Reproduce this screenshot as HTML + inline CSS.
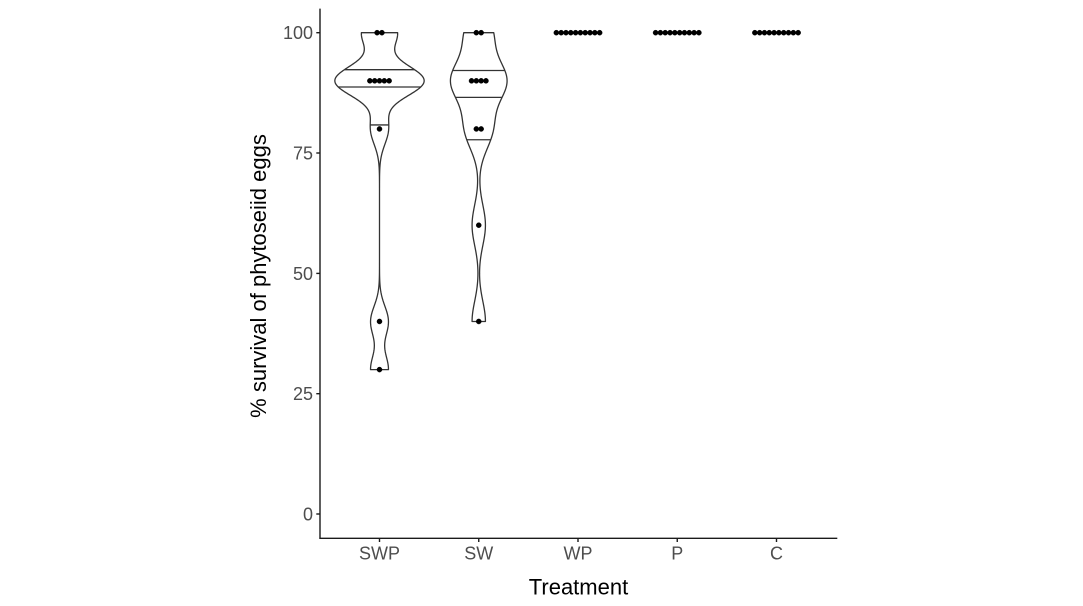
<!DOCTYPE html>
<html>
<head>
<meta charset="utf-8">
<style>
html,body{margin:0;padding:0;background:#fff;width:1083px;height:606px;overflow:hidden}
svg{display:block}
text{font-family:"Liberation Sans",Arial,sans-serif}
</style>
</head>
<body>
<svg id="s" width="1083" height="606" viewBox="0 0 1083 606" xmlns="http://www.w3.org/2000/svg">
<rect x="0" y="0" width="1083" height="606" fill="#fff"/>
<g id="violins" fill="#fff" stroke="#333" stroke-width="1.3" stroke-linejoin="round"></g>
<g id="qlines" stroke="#333" stroke-width="1.3"></g>
<g id="dots" fill="#000" stroke="#000" stroke-width="0.4"></g>

<!-- axes -->
<g stroke="#1a1a1a" stroke-width="1.4" fill="none">
  <line x1="320" y1="8.6" x2="320" y2="538.9"/>
  <line x1="319.4" y1="538.3" x2="837.3" y2="538.3"/>
  <!-- y ticks -->
  <line x1="316.3" y1="514.0" x2="320" y2="514.0"/>
  <line x1="316.3" y1="393.7" x2="320" y2="393.7"/>
  <line x1="316.3" y1="273.4" x2="320" y2="273.4"/>
  <line x1="316.3" y1="153.0" x2="320" y2="153.0"/>
  <line x1="316.3" y1="32.7" x2="320" y2="32.7"/>
  <!-- x ticks -->
  <line x1="379.5" y1="538.3" x2="379.5" y2="542"/>
  <line x1="478.75" y1="538.3" x2="478.75" y2="542"/>
  <line x1="578" y1="538.3" x2="578" y2="542"/>
  <line x1="677.25" y1="538.3" x2="677.25" y2="542"/>
  <line x1="776.5" y1="538.3" x2="776.5" y2="542"/>
</g>

<g fill="#4d4d4d" font-size="18" text-anchor="end">
  <text x="313" y="520.4">0</text>
  <text x="313" y="400.1">25</text>
  <text x="313" y="279.8">50</text>
  <text x="313" y="159.4">75</text>
  <text x="313" y="39.1">100</text>
</g>
<g fill="#4d4d4d" font-size="18" text-anchor="middle">
  <text x="379.5" y="559.3">SWP</text>
  <text x="478.75" y="559.3">SW</text>
  <text x="578" y="559.3">WP</text>
  <text x="677.25" y="559.3">P</text>
  <text x="776.5" y="559.3">C</text>
</g>
<text x="578.5" y="594.3" font-size="22" text-anchor="middle" fill="#000">Treatment</text>
<text transform="translate(266,276) rotate(-90)" font-size="22" text-anchor="middle" fill="#000">% survival of phytoseiid eggs</text>
</svg>
<script>
(function(){
var NS="http://www.w3.org/2000/svg";
function Y(v){return 514.0-4.813*v;}
function XC(i){return 379.5+99.25*i;}
var HW=0.45*99.25;
var ten100=[100,100,100,100,100,100,100,100,100,100];
var data=[
 [100,100,90,90,90,90,90,80,40,30],
 [100,100,90,90,90,90,80,80,60,40],
 ten100.slice(), ten100.slice(), ten100.slice()
];
function mean(a){var s=0;for(var i=0;i<a.length;i++)s+=a[i];return s/a.length;}
function q7(s,p){var h=(s.length-1)*p;var lo=Math.floor(h);var hi=Math.min(lo+1,s.length-1);return s[lo]+(h-lo)*(s[hi]-s[lo]);}
function bw(x){
  var n=x.length,m=mean(x),ss=0;
  for(var i=0;i<n;i++)ss+=(x[i]-m)*(x[i]-m);
  var sd=Math.sqrt(ss/(n-1));
  var s=x.slice().sort(function(a,b){return a-b;});
  var iqr=q7(s,0.75)-q7(s,0.25);
  var lo=Math.min(sd,iqr/1.34);
  if(!lo){lo=sd||Math.abs(x[0])||1;}
  return 0.9*lo*Math.pow(n,-0.2);
}
var N=512;
var dens=data.map(function(x){
  var b=bw(x);
  var lo=Math.min.apply(null,x),hi=Math.max.apply(null,x);
  var ys=[],ds=[];
  for(var k=0;k<N;k++){
    var y=lo+(hi-lo)*k/(N-1);
    var d=0;
    for(var j=0;j<x.length;j++){var z=(y-x[j])/b;d+=Math.exp(-0.5*z*z);}
    d/=x.length*b*Math.sqrt(2*Math.PI);
    ys.push(y);ds.push(d);
  }
  return {ys:ys,ds:ds,lo:lo,hi:hi};
});
var gmax=0;
dens.forEach(function(g){g.ds.forEach(function(d){if(d>gmax)gmax=d;});});
var gv=document.getElementById("violins"),gq=document.getElementById("qlines"),gd=document.getElementById("dots");
dens.forEach(function(g,i){
  var xc=XC(i);
  var vw=g.ds.map(function(d){return d/gmax;});
  var pts=[];
  for(var k=0;k<N;k++)pts.push((xc-vw[k]*HW).toFixed(2)+","+Y(g.ys[k]).toFixed(2));
  for(var k2=N-1;k2>=0;k2--)pts.push((xc+vw[k2]*HW).toFixed(2)+","+Y(g.ys[k2]).toFixed(2));
  var p=document.createElementNS(NS,"path");
  p.setAttribute("d","M"+pts.join("L")+"Z");
  gv.appendChild(p);
  if(g.hi>g.lo){
    var tot=0;g.ds.forEach(function(d){tot+=d;});
    var cum=[],c=0;
    for(var k3=0;k3<N;k3++){c+=g.ds[k3];cum.push(c/tot);}
    [0.25,0.5,0.75].forEach(function(q){
      var k=0;while(k<N-1&&cum[k]<q)k++;
      var y;
      if(k===0)y=g.ys[0];
      else{var f=(q-cum[k-1])/(cum[k]-cum[k-1]);y=g.ys[k-1]+f*(g.ys[k]-g.ys[k-1]);}
      var t=(y-g.lo)/(g.hi-g.lo)*(N-1);var a=Math.floor(t),bb=Math.min(a+1,N-1);
      var w=vw[a]+(t-a)*(vw[bb]-vw[a]);
      var l=document.createElementNS(NS,"line");
      l.setAttribute("x1",(xc-w*HW).toFixed(2));l.setAttribute("x2",(xc+w*HW).toFixed(2));
      l.setAttribute("y1",Y(y).toFixed(2));l.setAttribute("y2",Y(y).toFixed(2));
      gq.appendChild(l);
    });
  }
  var counts={};
  data[i].forEach(function(v){counts[v]=(counts[v]||0)+1;});
  var d=4.813;
  Object.keys(counts).forEach(function(v){
    var cnt=counts[v];
    for(var j=0;j<cnt;j++){
      var ci=document.createElementNS(NS,"circle");
      ci.setAttribute("cx",(xc+(j-(cnt-1)/2)*d).toFixed(2));
      ci.setAttribute("cy",Y(+v).toFixed(2));
      ci.setAttribute("r","2.55");
      gd.appendChild(ci);
    }
  });
});
})();
</script>
</body>
</html>
